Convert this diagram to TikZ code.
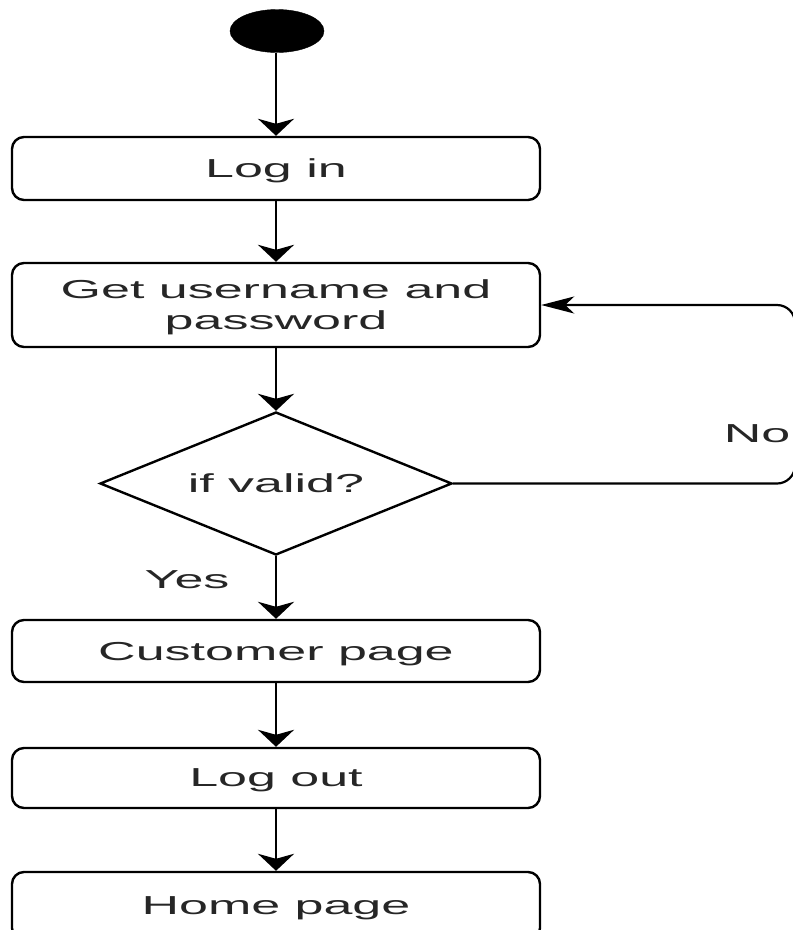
\documentclass[tikz,border=0pt]{standalone}
\usepackage{fontspec}
\setmainfont[FakeStretch=2]{Liberation Sans}
\usetikzlibrary{shapes.geometric,arrows.meta}
\begin{document}
\begin{tikzpicture}[x=1pt,y=-1pt,
  lbl/.style={font=\fontsize{26}{31}\selectfont, text=black!85},
  box/.style={lbl, draw, line width=2.4pt, rounded corners=12pt, minimum width=528pt, inner sep=0pt, align=center, text depth=0pt},
  dec/.style={lbl, draw, line width=2.4pt, diamond, aspect=2.46, minimum width=352pt, minimum height=143pt, inner sep=0pt},
  vflow/.style={line width=2.4pt, -{Stealth[length=17pt,width=36pt,inset=5pt]}},
  hflow/.style={line width=2.2pt, rounded corners=18pt, -{Stealth[length=33pt,width=17pt,inset=9pt]}}
]
\useasboundingbox (0,0) rectangle (793,930);
\clip (0,0) rectangle (793,930);
\fill[white] (0,0) rectangle (793,930);

\node[draw, fill=black, ellipse, minimum width=94pt, minimum height=43pt, inner sep=0pt] (start) at (277,31) {};
\node[box, minimum height=63pt] (login) at (276,168.5) {Log in};
\node[box, minimum height=84pt] (get) at (276,305) {Get username and\\password};
\node[dec] (valid) at (276,483.5) {if valid?};
\node[box, minimum height=62pt] (cust) at (276,651) {Customer page};
\node[box, minimum height=60pt] (logout) at (276,778) {Log out};
\node[box, minimum height=68pt] (home) at (276,906) {Home page};

\node[lbl] (yes) at (187,580) {Yes};
\node[lbl] (no) at (757,434) {No};

\coordinate (c1) at (795,483.5);
\coordinate (c2) at (795,305);

\draw[vflow] (start.south -| login.north) -- (login.north);
\draw[vflow] (login) -- (get);
\draw[vflow] (get) -- (valid.north);
\draw[vflow] (valid.south) -- (cust.north);
\draw[vflow] (cust) -- (logout);
\draw[vflow] (logout) -- (home);
\draw[hflow] (valid.east) -- (c1) -- (c2) -- (get.east);
\end{tikzpicture}
\end{document}
